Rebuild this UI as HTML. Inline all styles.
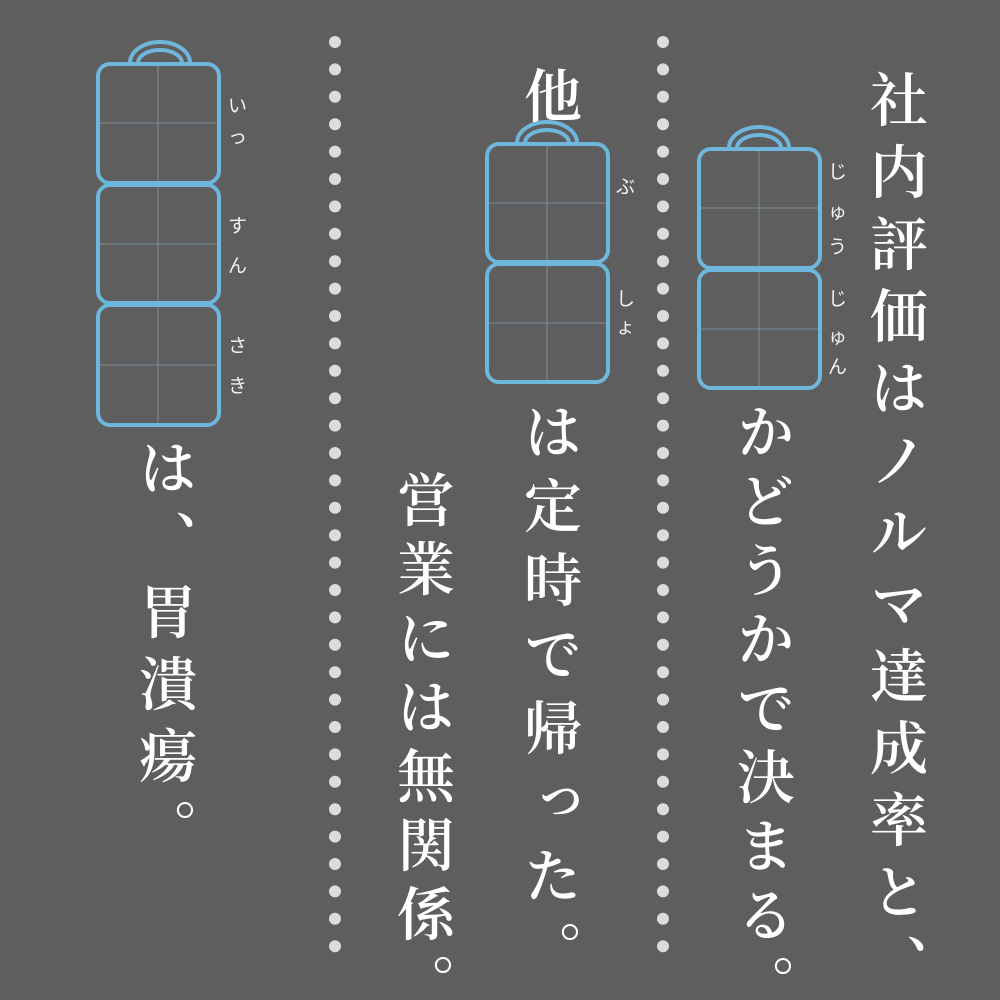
<!DOCTYPE html>
<html style="overflow:hidden;width:1000px;height:1000px"><head><meta charset="utf-8"><style>
body{margin:0;width:1000px;height:1000px;background:#5e5e5e;position:relative;overflow:hidden;font-family:"Liberation Serif","Noto Serif CJK SC","Noto Serif CJK JP",serif;color:#fff}
.v{position:absolute;writing-mode:vertical-rl;font-size:58px;line-height:1;white-space:nowrap;font-weight:600}
.r{position:absolute;font-size:19px;color:#f2f2f2;font-family:"Liberation Sans","Noto Sans CJK JP",sans-serif;line-height:1}
svg{position:absolute;left:0;top:0}
</style></head><body>
<svg width="1000" height="1000">
<g fill="#dcdcdc" id="dots"></g>
<g fill="none" stroke="#6fb6dc" stroke-width="4">
 <path d="M130,63 A30,21 0 0 1 190,63"/><path d="M138,63 A22,13 0 0 1 182,63"/>
 <rect x="98" y="64" width="121" height="119" rx="12"/>
 <rect x="98" y="185" width="121" height="118" rx="12"/>
 <rect x="98" y="305" width="121" height="120" rx="12"/>
 <path d="M517,143 A30,21 0 0 1 577,143"/><path d="M525,143 A22,13 0 0 1 569,143"/>
 <rect x="487" y="144" width="121" height="118" rx="12"/>
 <rect x="487" y="264" width="121" height="118" rx="12"/>
 <path d="M729,148 A30,21 0 0 1 789,148"/><path d="M737,148 A22,13 0 0 1 781,148"/>
 <rect x="699" y="149" width="121" height="119" rx="12"/>
 <rect x="699" y="270" width="121" height="118" rx="12"/>
</g>
<g stroke="#8fb8cf" stroke-width="0.8" opacity="0.7">
 <line x1="158" y1="66" x2="158" y2="423"/><line x1="100" y1="123" x2="217" y2="123"/><line x1="100" y1="244" x2="217" y2="244"/><line x1="100" y1="365" x2="217" y2="365"/>
 <line x1="547" y1="146" x2="547" y2="380"/><line x1="489" y1="203" x2="606" y2="203"/><line x1="489" y1="323" x2="606" y2="323"/>
 <line x1="759" y1="151" x2="759" y2="386"/><line x1="701" y1="208" x2="818" y2="208"/><line x1="701" y1="329" x2="818" y2="329"/>
</g>
</svg>
<div class="v" style="left:864px;top:70px;letter-spacing:14px">社内評価はノルマ達成率と、</div>
<div class="v" style="left:731px;top:402px;letter-spacing:11px">かどうかで決まる。</div>
<div class="v" style="left:518px;top:66px">他</div>
<div class="v" style="left:518px;top:402px;letter-spacing:16px">は定時で帰った。</div>
<div class="v" style="left:391px;top:470px;letter-spacing:11px">営業には無関係。</div>
<div class="v" style="left:133px;top:438px;letter-spacing:14px">は、胃潰瘍。</div>
<div class="r" style="left:228px;top:97px">い</div>
<div class="r" style="left:228px;top:128px">っ</div>
<div class="r" style="left:228px;top:217px">す</div>
<div class="r" style="left:228px;top:257px">ん</div>
<div class="r" style="left:228px;top:337px">さ</div>
<div class="r" style="left:228px;top:377px">き</div>
<div class="r" style="left:616px;top:178px">ぶ</div>
<div class="r" style="left:616px;top:290px">し</div>
<div class="r" style="left:616px;top:318px">ょ</div>
<div class="r" style="left:828px;top:163px">じ</div>
<div class="r" style="left:828px;top:203px">ゅ</div>
<div class="r" style="left:828px;top:238px">う</div>
<div class="r" style="left:828px;top:290px">じ</div>
<div class="r" style="left:828px;top:328px">ゅ</div>
<div class="r" style="left:828px;top:358px">ん</div>
<script>
var g=document.getElementById('dots'),s='';
for(var i=0;i<34;i++){var y=42+i*27.4;s+='<circle cx="335" cy="'+y+'" r="6"/><circle cx="663" cy="'+y+'" r="6"/>';}
g.innerHTML=s;
</script>
</body></html>
